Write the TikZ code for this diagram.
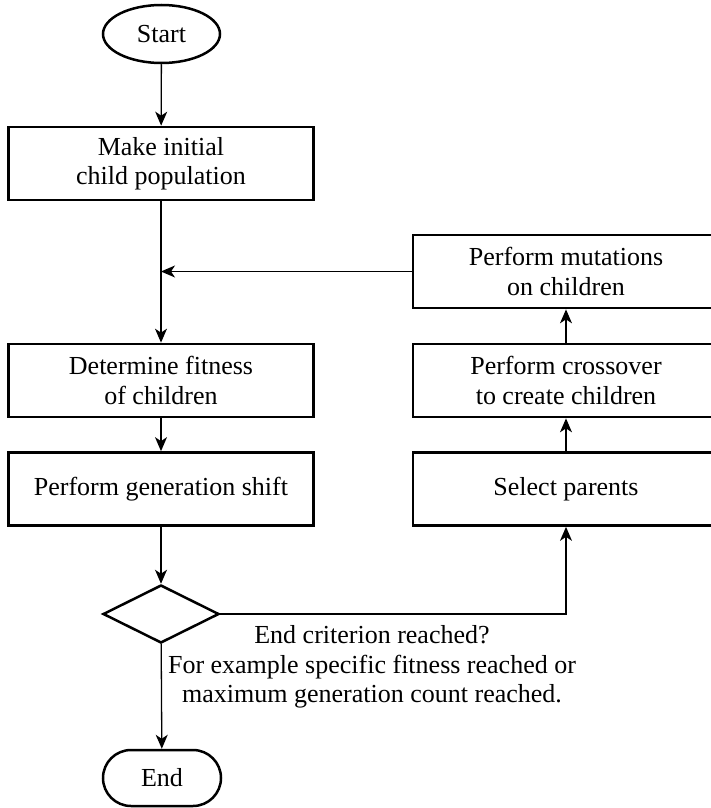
\documentclass[tikz,border=0pt]{standalone}
\usepackage{fontspec}
\setmainfont{Liberation Serif}
\usetikzlibrary{shapes.geometric,arrows.meta}
\begin{document}
\begin{tikzpicture}[x=1pt,y=-1pt,
  every node/.style={font=\fontsize{26}{29.5}\selectfont},
  proc/.style={draw,line width=2.7pt,minimum width=305pt,minimum height=73pt,align=center,inner sep=0pt},
  startterm/.style={draw,ellipse,line width=2.5pt,minimum width=117pt,minimum height=58pt,inner sep=0pt},
  endterm/.style={draw,rectangle,rounded corners=28pt,line width=2.5pt,minimum width=118pt,minimum height=56pt,inner sep=0pt},
  decision/.style={draw,diamond,line width=2.5pt,minimum width=116pt,minimum height=58pt,inner sep=0pt},
  conn/.style={line width=1.3pt,-{Stealth[length=14pt,width=12pt,inset=4pt]}},
  plain/.style={line width=1.3pt}
]
\useasboundingbox (0,0) rectangle (710,808);
% left column
\node[startterm] (start) at (161.5,34) {Start};
\node[proc] (init) at (161,163.5) {Make initial\\child population};
\node[proc] (fit) at (161,380.5) {Determine fitness\\of children};
\node[proc] (shift) at (161,489) {Perform generation shift};
\node[decision] (dec) at (161,614) {};
\node[endterm] (end) at (162,778) {End};
% right column
\node[proc,minimum width=306pt] (mut) at (566,271.5) {Perform mutations\\on children};
\node[proc,minimum width=306pt] (cross) at (566,380.5) {Perform crossover\\to create children};
\node[proc,minimum width=306pt] (sel) at (566,489) {Select parents};
% label
\node[align=center,inner sep=0pt] (crit) at (372,667) {End criterion reached?\\For example specific fitness reached or\\maximum generation count reached.};
% connectors
\draw[conn] (start) -- (init);
\draw[conn] (init) -- (fit);
\draw[conn] (fit) -- (shift);
\draw[conn] (shift) -- (dec);
\draw[conn] (dec) -- (end);
\draw[conn] (dec.east) -| (sel.south);
\draw[conn] (sel) -- (cross);
\draw[conn] (cross) -- (mut);
\draw[conn] (mut.west) -- (init.south |- mut.west);
\end{tikzpicture}
\end{document}
